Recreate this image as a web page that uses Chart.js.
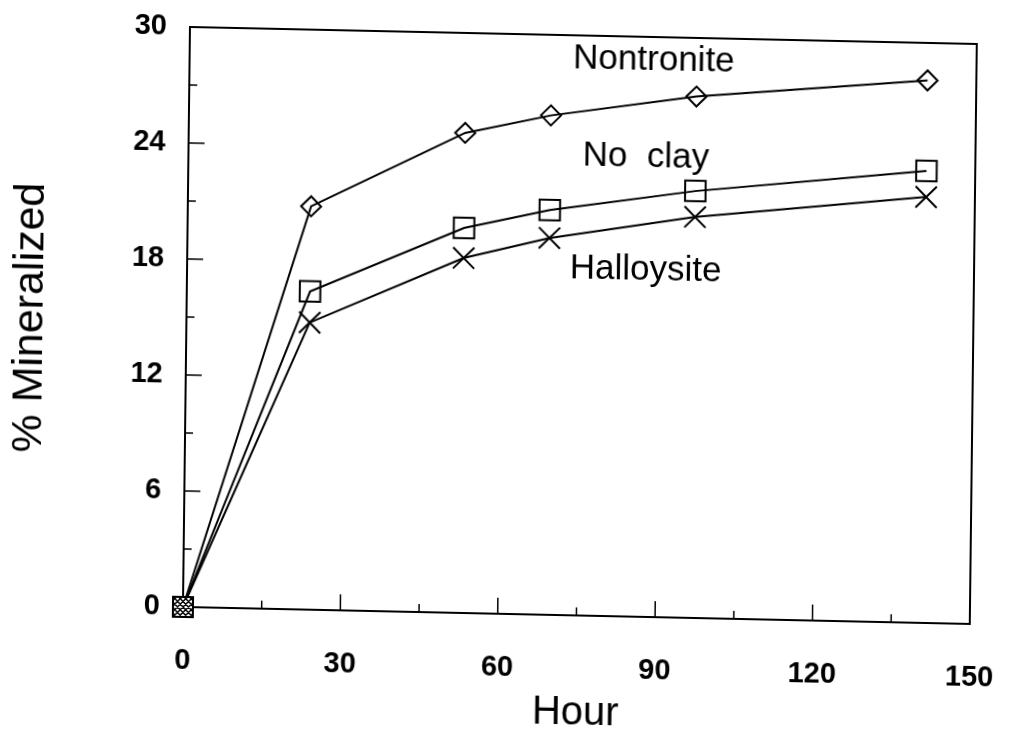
<!DOCTYPE html>
<html>
<head>
<meta charset="utf-8">
<title>% Mineralized vs Hour</title>
<script src="https://cdn.jsdelivr.net/npm/chart.js@4.4.1/dist/chart.umd.min.js"></script>
<style>
  html, body { margin: 0; padding: 0; background: #fff; overflow: hidden; }
  #wrap { width: 1011px; height: 734px; position: relative; }
  /* the scanned figure is slightly skewed: bottom axis drops to the right, left axis leans */
  #chart { transform: matrix(1, 0.0216, -0.0121, 1, 0, 0); transform-origin: 183px 607px; }
</style>
</head>
<body>
<div id="wrap"><canvas id="chart" width="1011" height="734"></canvas></div>
<script>
// data
const hours = [0, 23.5, 52.7, 69, 96.7, 140.7];
const nontronite = [0, 20.86, 24.83, 25.83, 26.97, 28.06];
const noClay = [0, 16.46, 19.91, 20.94, 22.08, 23.38];
const halloysite = [0, 14.85, 18.36, 19.49, 20.74, 22.03];
const xTicks = [0, 30, 60, 90, 120, 150];
const yTicks = [0, 6, 12, 18, 24, 30];

const seriesNames = ['Nontronite', 'No  clay', 'Halloysite'];
// where each series name sits, in data units (hour, %)
const nameHour = [88.5, 87.2, 87.4];
const namePct = [28.81, 23.79, 17.94];

const FONT = "'Liberation Sans', Arial, Helvetica, sans-serif";

// cross-hatched square used for the common origin point
const hatch = document.createElement('canvas');
hatch.width = 22; hatch.height = 22;
(function () {
  const c = hatch.getContext('2d');
  c.fillStyle = '#fff';
  c.fillRect(0, 0, 22, 22);
  c.strokeStyle = '#000';
  c.lineWidth = 1.5;
  c.beginPath();
  for (let k = -22; k <= 44; k += 5.5) {
    c.moveTo(k, 0); c.lineTo(k + 22, 22);
    c.moveTo(k, 22); c.lineTo(k + 22, 0);
  }
  c.stroke();
  c.lineWidth = 2;
  c.strokeRect(1, 1, 20, 20);
})();

function pts(ys) {
  return hours.map((h, i) => ({ x: h, y: ys[i] }));
}

function series(label, ys, style, radius) {
  return {
    label: label,
    data: pts(ys),
    clip: false,
    borderColor: '#000',
    borderWidth: 2,
    tension: 0,
    pointStyle: ctx => ctx.dataIndex === 0 ? hatch : style,
    pointRadius: ctx => ctx.dataIndex === 0 ? 11 : radius,
    pointBorderColor: '#000',
    pointBorderWidth: 2,
    pointBackgroundColor: 'rgba(0,0,0,0)'
  };
}

// box, inward ticks, axis titles and series names
const decor = {
  id: 'decor',
  beforeDatasetsDraw(chart) {
    const ctx = chart.ctx;
    const a = chart.chartArea;
    const xs = chart.scales.x, ys = chart.scales.y;
    ctx.save();
    ctx.strokeStyle = '#000';
    ctx.lineWidth = 2;
    ctx.strokeRect(a.left, a.top, a.right - a.left, a.bottom - a.top);

    ctx.beginPath();
    for (let v = 15; v < 150; v += 15) {
      const px = xs.getPixelForValue(v);
      const len = v % 30 === 0 ? 16 : 8;
      ctx.moveTo(px, a.bottom); ctx.lineTo(px, a.bottom - len);
    }
    for (let v = 3; v < 30; v += 3) {
      const py = ys.getPixelForValue(v);
      const len = v % 6 === 0 ? 16 : 8;
      ctx.moveTo(a.left, py); ctx.lineTo(a.left + len, py);
    }
    ctx.lineWidth = 1.5;
    ctx.stroke();

    ctx.fillStyle = '#000';
    ctx.textAlign = 'center';
    ctx.textBaseline = 'middle';
    ctx.font = '35px ' + FONT;
    seriesNames.forEach((name, i) => {
      ctx.fillText(name, xs.getPixelForValue(nameHour[i]), ys.getPixelForValue(namePct[i]));
    });

    ctx.font = '40px ' + FONT;
    ctx.fillText('Hour', (a.left + a.right) / 2, 705);

    ctx.translate(27, 321);
    ctx.rotate(-Math.PI / 2);
    ctx.font = '43px ' + FONT;
    ctx.fillText('% Mineralized', 0, 0);
    ctx.restore();
  }
};

document.addEventListener('DOMContentLoaded', function () {
  new Chart(document.getElementById('chart'), {
    type: 'line',
    data: {
      datasets: [
        series('Nontronite', nontronite, 'rectRot', 10),
        series('No clay', noClay, 'rect', 14.5),
        series('Halloysite', halloysite, 'crossRot', 15)
      ]
    },
    options: {
      responsive: false,
      animation: false,
      layout: { padding: { left: 0, right: 41, top: 27, bottom: 0 } },
      plugins: { legend: { display: false }, tooltip: { enabled: false } },
      scales: {
        x: {
          type: 'linear',
          min: 0, max: 150,
          afterFit: s => { s.height = 127; s.paddingLeft = 0; s.paddingRight = 0; },
          afterBuildTicks: s => { s.ticks = xTicks.map(v => ({ value: v })); },
          grid: { display: false, drawTicks: false },
          border: { display: false },
          ticks: { color: '#000', padding: 37, maxRotation: 0, font: { family: FONT, size: 29, weight: 'bold' } }
        },
        y: {
          type: 'linear',
          min: 0, max: 30,
          afterFit: s => { s.width = 183; s.paddingTop = 0; s.paddingBottom = 0; },
          afterBuildTicks: s => { s.ticks = yTicks.map(v => ({ value: v })); },
          grid: { display: false, drawTicks: false },
          border: { display: false },
          ticks: { color: '#000', padding: 23, font: { family: FONT, size: 29, weight: 'bold' } }
        }
      }
    },
    plugins: [decor]
  });
});
</script>
</body>
</html>
